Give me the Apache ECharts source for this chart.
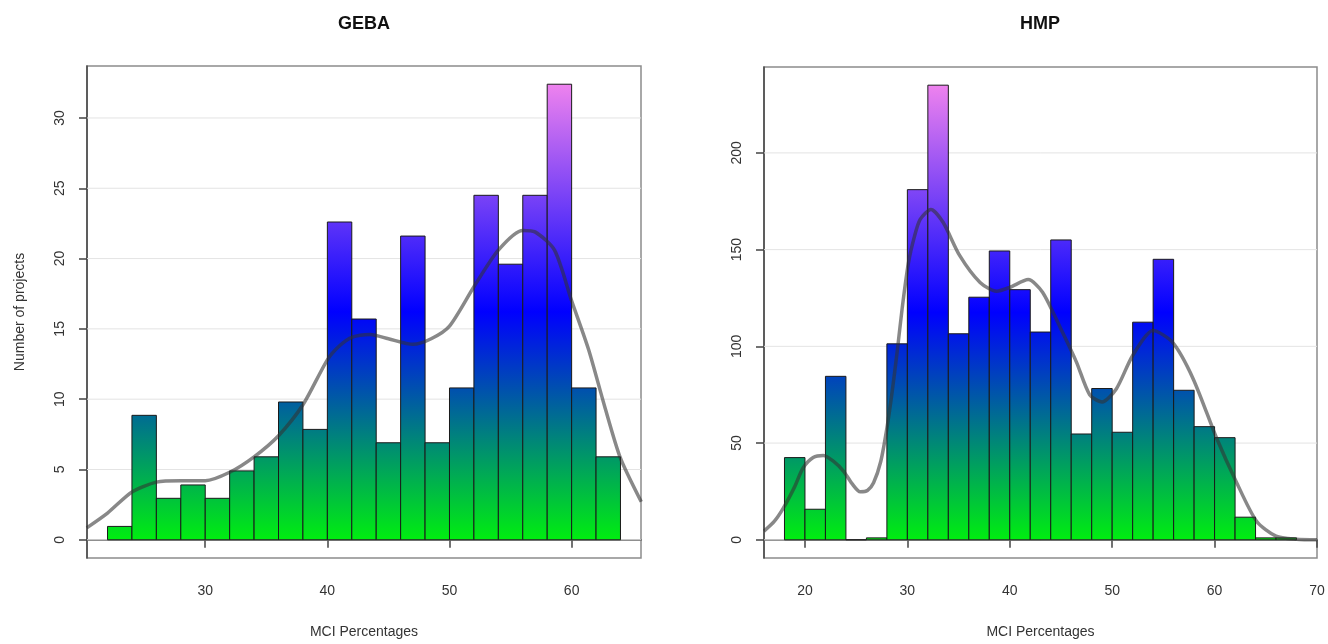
<!DOCTYPE html>
<html>
<head>
<meta charset="utf-8">
<title>MCI Percentages</title>
<script src="https://cdn.jsdelivr.net/npm/echarts@6/dist/echarts.min.js"></script>
<style>
    html, body { margin: 0; padding: 0; background: #fff; }
    #main { width: 1328px; height: 644px; }
</style>
</head>
<body>
<div id="main"></div>
<script>
// GEBA: bin edges (width 2), counts per bin, density curve
var gebaBreaks = [22, 24, 26, 28, 30, 32, 34, 36, 38, 40, 42, 44, 46, 48, 50, 52, 54, 56, 58, 60, 62, 64];
var gebaCounts = [0.95, 8.85, 2.95, 3.9, 2.95, 4.9, 5.9, 9.8, 7.85, 22.6, 15.7, 6.9, 21.6, 6.9, 10.8, 24.5, 19.6, 24.5, 32.4, 10.8, 5.9];
var gebaDensX = [20.3, 22, 24, 26, 28, 30, 32, 34, 36, 38, 40, 41, 42, 43.5, 45, 47, 48.5, 50, 52, 54, 56, 57, 58.6, 60, 61.4, 62.7, 64, 65.7];
var gebaDensY = [0.85, 1.9, 3.4, 4.1, 4.2, 4.2, 4.8, 5.9, 7.4, 9.6, 12.8, 13.8, 14.4, 14.6, 14.3, 13.9, 14.3, 15.2, 18, 20.6, 22, 21.9, 20.6, 17, 13.5, 9.5, 5.8, 2.7];
var gebaXTicks = [30, 40, 50, 60];
var gebaYTicks = [0, 5, 10, 15, 20, 25, 30];

// HMP
var hmpBreaks = [18, 20, 22, 24, 26, 28, 30, 32, 34, 36, 38, 40, 42, 44, 46, 48, 50, 52, 54, 56, 58, 60, 62, 64, 66, 68];
var hmpCounts = [42.5, 15.8, 84.5, 0, 1, 101.3, 181, 235, 106.5, 125.4, 149.3, 129.3, 107.4, 155, 54.7, 78.2, 55.6, 112.5, 145, 77.3, 58.5, 52.8, 11.7, 1, 1];
var hmpDensX = [16, 17, 17.9, 19, 19.8, 20.8, 21.8, 22.8, 23.8, 24.6, 25.4, 26.1, 26.7, 27.4, 28, 28.5, 29, 29.5, 30.1, 30.7, 31.25, 32.3, 33.5, 35.1, 37.1, 38.7, 40, 41.8, 43.2, 44.9, 46.5, 47.8, 49, 50.4, 52, 54, 55.9, 57.9, 60.2, 62.1, 64.1, 66, 68, 70];
var hmpDensY = [4.5, 9.5, 16.5, 27.5, 37, 42.5, 43.6, 40.5, 35.3, 29, 24.8, 25.5, 29.5, 40.5, 57.6, 76, 97, 120, 143, 157, 165.6, 170.8, 164, 147, 133, 128.5, 130.5, 134.5, 128, 110, 92, 75, 71.3, 78, 95.3, 108.2, 102, 83.3, 52.5, 30.2, 9.6, 1.9, 0.3, 0];
var hmpXTicks = [20, 30, 40, 50, 60, 70];
var hmpYTicks = [0, 50, 100, 150, 200];

var titles = ['GEBA', 'HMP'];
var xName = 'MCI Percentages';
var yName = 'Number of projects';

var FONT = '"Liberation Sans", Arial, sans-serif';
var rampStops = [
    {offset: 0, color: '#00ee10'},
    {offset: 0.5, color: '#0000ff'},
    {offset: 1, color: '#ee82ee'}
];

var chart = echarts.init(document.getElementById('main'));

var grids = [
    {left: 87, top: 66, width: 554, height: 493},
    {left: 764, top: 67, width: 553, height: 493}
];

function panel(i, breaks, counts, densX, densY, xTicks, yTicks) {
    var peak = Math.max.apply(null, counts);
    // R-style 4% padding around data range
    var xr = breaks[breaks.length - 1] - breaks[0];
    var xMin = breaks[0] - 0.04 * xr, xMax = breaks[breaks.length - 1] + 0.04 * xr;
    var yMin = -0.04 * peak, yMax = peak * 1.04;

    var bins = counts.map(function (c, k) { return [breaks[k], breaks[k + 1], c]; });
    var dens = densX.map(function (x, k) { return [x, densY[k]]; });

    var xAxis = {
        type: 'value', gridIndex: i, min: xMin, max: xMax,
        name: xName, nameLocation: 'middle', nameGap: 67,
        nameTextStyle: {fontFamily: FONT, fontSize: 14, color: '#333'},
        axisLine: {show: true, lineStyle: {color: '#444', width: 1.5}},
        axisTick: {show: true, length: 8, customValues: xTicks, lineStyle: {color: '#444', width: 1.5}},
        axisLabel: {customValues: xTicks, margin: 26, fontFamily: FONT, fontSize: 14, color: '#333'},
        splitLine: {show: false}
    };
    var yAxis = {
        type: 'value', gridIndex: i, min: yMin, max: yMax,
        name: i === 0 ? yName : '', nameLocation: 'middle', nameGap: 60,
        nameTextStyle: {fontFamily: FONT, fontSize: 14, color: '#333'},
        axisLine: {show: true, lineStyle: {color: '#444', width: 1.5}},
        axisTick: {show: true, length: 8, customValues: yTicks, lineStyle: {color: '#444', width: 1.5}},
        axisLabel: {customValues: yTicks, rotate: 90, margin: 20, fontFamily: FONT, fontSize: 14, color: '#333'},
        splitLine: {show: false}
    };

    var series = [
        {
            // light horizontal guide lines at the y ticks
            type: 'custom', xAxisIndex: i, yAxisIndex: i, z: 1, silent: true,
            data: yTicks.map(function (v) { return [xMin, v]; }),
            renderItem: function (params, api) {
                var cs = params.coordSys;
                var y = api.coord([xMin, api.value(1)])[1];
                return {
                    type: 'line',
                    shape: {x1: cs.x, y1: y, x2: cs.x + cs.width, y2: y},
                    style: {stroke: '#e4e4e4', lineWidth: 1}
                };
            }
        },
        {
            type: 'custom', xAxisIndex: i, yAxisIndex: i, z: 2,
            encode: {x: [0, 1], y: 2},
            data: bins,
            renderItem: function (params, api) {
                var tl = api.coord([api.value(0), api.value(2)]);
                var br = api.coord([api.value(1), 0]);
                var y0 = api.coord([xMin, 0])[1];
                var y1 = api.coord([xMin, peak])[1];
                return {
                    type: 'rect',
                    shape: {x: tl[0], y: tl[1], width: br[0] - tl[0], height: br[1] - tl[1]},
                    style: {
                        fill: new echarts.graphic.LinearGradient(0, y0, 0, y1, rampStops, true),
                        stroke: '#1a1a1a',
                        lineWidth: 1
                    }
                };
            }
        },
        {
            type: 'line', xAxisIndex: i, yAxisIndex: i, z: 3,
            data: dens, smooth: 0.25, showSymbol: false, silent: true,
            lineStyle: {color: 'rgba(50,50,50,0.58)', width: 3.5}
        }
    ];
    return {xAxis: xAxis, yAxis: yAxis, series: series};
}

var p1 = panel(0, gebaBreaks, gebaCounts, gebaDensX, gebaDensY, gebaXTicks, gebaYTicks);
var p2 = panel(1, hmpBreaks, hmpCounts, hmpDensX, hmpDensY, hmpXTicks, hmpYTicks);

var option = {
    animation: false,
    backgroundColor: '#fff',
    title: [
        {text: titles[0], left: 364, top: 15, textAlign: 'center', padding: 0,
         textStyle: {fontFamily: FONT, fontSize: 18, fontWeight: 'bold', color: '#111'}},
        {text: titles[1], left: 1040, top: 15, textAlign: 'center', padding: 0,
         textStyle: {fontFamily: FONT, fontSize: 18, fontWeight: 'bold', color: '#111'}}
    ],
    grid: grids.map(function (g) {
        return {left: g.left, top: g.top, width: g.width, height: g.height,
                show: true, borderColor: '#8c8c8c', borderWidth: 1.5, backgroundColor: '#fff'};
    }),
    xAxis: [p1.xAxis, p2.xAxis],
    yAxis: [p1.yAxis, p2.yAxis],
    series: p1.series.concat(p2.series)
};

chart.setOption(option);
window.addEventListener('resize', function () {
    chart.resize();
});
</script>
</body>
</html>
